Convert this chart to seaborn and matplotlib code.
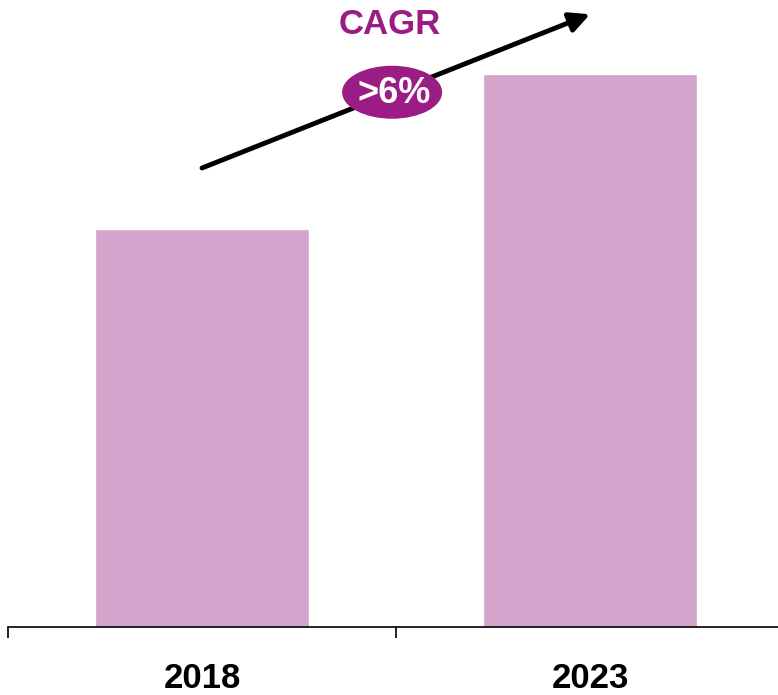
import matplotlib
matplotlib.use("Agg")
import matplotlib.pyplot as plt
import seaborn as sns
import pandas as pd
from matplotlib.patches import Ellipse

years = ["2018", "2023"]
values = [72, 100]
cagr_label = "CAGR"
cagr_value = ">6%"

sns.set_theme(style="white")
plt.rcParams['font.family'] = ['Liberation Sans', 'DejaVu Sans']

df = pd.DataFrame({"year": years, "value": values})

fig = plt.figure(figsize=(7.78, 6.95), dpi=100)
ax = fig.add_axes([8/778, 68/695, 776/778, 627/695])

sns.barplot(data=df, x="year", y="value", color="#D4A4CC", saturation=1,
            width=0.552, ax=ax)

ax.set_xlim(-0.5, 1.5)
ax.set_ylim(0, 100 * 627 / 553)
ax.set_xlabel("")
ax.set_ylabel("")
ax.set_yticks([])
ax.set_xticks([-0.5, 0.5, 1.5])
ax.set_xticklabels([])
ax.tick_params(axis="x", direction="out", length=8, width=1.2, color="black", bottom=True)
for s in ["top", "right", "left"]:
    ax.spines[s].set_visible(False)
ax.spines["bottom"].set_color("black")
ax.spines["bottom"].set_linewidth(1.2)

for i, y in enumerate(years):
    ax.text(i, -9.3, y, ha="center", va="center", fontsize=25, fontweight="bold",
            color="black", clip_on=False)

# arrow
ax.annotate("", xy=(1.0, 110.8), xytext=(0.0, 83.0),
            arrowprops=dict(arrowstyle="-|>,head_length=1.0,head_width=0.5",
                            color="black", lw=3.5, shrinkA=0, shrinkB=0),
            annotation_clip=False)

purple = "#9B1C84"
xr = 2.0 / 776
yr = (100 * 627 / 553) / 627
ell = Ellipse((0.49, 96.7), width=100 * xr, height=53 * yr, facecolor=purple,
              edgecolor="none", zorder=5)
ax.add_patch(ell)
ax.text(0.495, 96.5, cagr_value, ha="center", va="center", fontsize=26,
        fontweight="bold", color="white", zorder=6)
ax.text(0.485, (627 - 24) / 553 * 100, cagr_label, ha="center", va="center",
        fontsize=25, fontweight="bold", color=purple, zorder=6)

fig.savefig("out.png", dpi=100)
